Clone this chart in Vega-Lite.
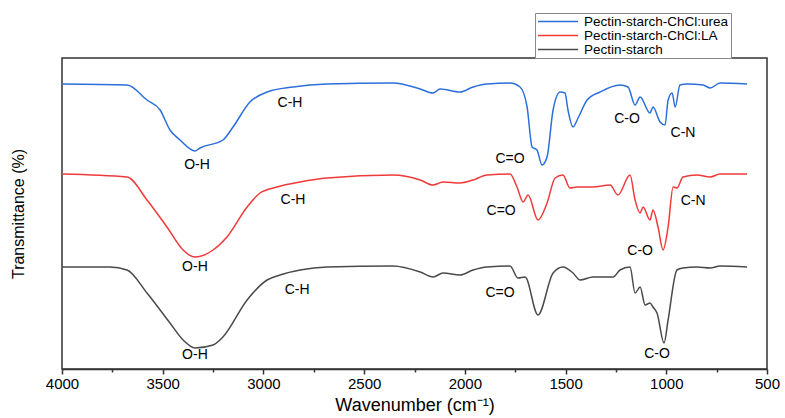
{
  "$schema": "https://vega.github.io/schema/vega-lite/v6.json",
  "autosize": "none",
  "width": 705,
  "height": 311,
  "padding": {"left": 62, "top": 58, "right": 18, "bottom": 49},
  "background": "white",
  "config": {
    "font": "Liberation Sans",
    "view": {"stroke": "#333", "strokeWidth": 1.5},
    "axis": {"labelFont": "Liberation Sans", "titleFont": "Liberation Sans", "labelColor": "#000", "titleColor": "#000", "grid": false}
  },
  "datasets": {
    "spectra": [
      {"series": "Pectin-starch-ChCl:urea", "wn": 4000, "t": 285},
      {"series": "Pectin-starch-ChCl:urea", "wn": 3677, "t": 284},
      {"series": "Pectin-starch-ChCl:urea", "wn": 3578, "t": 269},
      {"series": "Pectin-starch-ChCl:urea", "wn": 3513, "t": 259},
      {"series": "Pectin-starch-ChCl:urea", "wn": 3464, "t": 239},
      {"series": "Pectin-starch-ChCl:urea", "wn": 3414, "t": 229},
      {"series": "Pectin-starch-ChCl:urea", "wn": 3340, "t": 218},
      {"series": "Pectin-starch-ChCl:urea", "wn": 3315, "t": 221},
      {"series": "Pectin-starch-ChCl:urea", "wn": 3201, "t": 229},
      {"series": "Pectin-starch-ChCl:urea", "wn": 3151, "t": 242},
      {"series": "Pectin-starch-ChCl:urea", "wn": 3067, "t": 267},
      {"series": "Pectin-starch-ChCl:urea", "wn": 2982, "t": 277},
      {"series": "Pectin-starch-ChCl:urea", "wn": 2853, "t": 282},
      {"series": "Pectin-starch-ChCl:urea", "wn": 2684, "t": 285},
      {"series": "Pectin-starch-ChCl:urea", "wn": 2357, "t": 286},
      {"series": "Pectin-starch-ChCl:urea", "wn": 2222, "t": 280},
      {"series": "Pectin-starch-ChCl:urea", "wn": 2158, "t": 276},
      {"series": "Pectin-starch-ChCl:urea", "wn": 2123, "t": 280},
      {"series": "Pectin-starch-ChCl:urea", "wn": 2024, "t": 277},
      {"series": "Pectin-starch-ChCl:urea", "wn": 1959, "t": 282},
      {"series": "Pectin-starch-ChCl:urea", "wn": 1890, "t": 285},
      {"series": "Pectin-starch-ChCl:urea", "wn": 1776, "t": 286},
      {"series": "Pectin-starch-ChCl:urea", "wn": 1726, "t": 282},
      {"series": "Pectin-starch-ChCl:urea", "wn": 1691, "t": 262},
      {"series": "Pectin-starch-ChCl:urea", "wn": 1666, "t": 222},
      {"series": "Pectin-starch-ChCl:urea", "wn": 1642, "t": 219},
      {"series": "Pectin-starch-ChCl:urea", "wn": 1617, "t": 204},
      {"series": "Pectin-starch-ChCl:urea", "wn": 1592, "t": 212},
      {"series": "Pectin-starch-ChCl:urea", "wn": 1562, "t": 259},
      {"series": "Pectin-starch-ChCl:urea", "wn": 1527, "t": 277},
      {"series": "Pectin-starch-ChCl:urea", "wn": 1503, "t": 276},
      {"series": "Pectin-starch-ChCl:urea", "wn": 1488, "t": 259},
      {"series": "Pectin-starch-ChCl:urea", "wn": 1463, "t": 242},
      {"series": "Pectin-starch-ChCl:urea", "wn": 1438, "t": 251},
      {"series": "Pectin-starch-ChCl:urea", "wn": 1393, "t": 269},
      {"series": "Pectin-starch-ChCl:urea", "wn": 1329, "t": 277},
      {"series": "Pectin-starch-ChCl:urea", "wn": 1230, "t": 284},
      {"series": "Pectin-starch-ChCl:urea", "wn": 1190, "t": 282},
      {"series": "Pectin-starch-ChCl:urea", "wn": 1155, "t": 264},
      {"series": "Pectin-starch-ChCl:urea", "wn": 1130, "t": 272},
      {"series": "Pectin-starch-ChCl:urea", "wn": 1081, "t": 256},
      {"series": "Pectin-starch-ChCl:urea", "wn": 1066, "t": 262},
      {"series": "Pectin-starch-ChCl:urea", "wn": 1031, "t": 247},
      {"series": "Pectin-starch-ChCl:urea", "wn": 1006, "t": 244},
      {"series": "Pectin-starch-ChCl:urea", "wn": 991, "t": 269},
      {"series": "Pectin-starch-ChCl:urea", "wn": 971, "t": 276},
      {"series": "Pectin-starch-ChCl:urea", "wn": 956, "t": 262},
      {"series": "Pectin-starch-ChCl:urea", "wn": 932, "t": 284},
      {"series": "Pectin-starch-ChCl:urea", "wn": 897, "t": 285},
      {"series": "Pectin-starch-ChCl:urea", "wn": 817, "t": 284},
      {"series": "Pectin-starch-ChCl:urea", "wn": 782, "t": 281},
      {"series": "Pectin-starch-ChCl:urea", "wn": 733, "t": 286},
      {"series": "Pectin-starch-ChCl:urea", "wn": 599, "t": 285},

      {"series": "Pectin-starch-ChCl:LA", "wn": 4000, "t": 195},
      {"series": "Pectin-starch-ChCl:LA", "wn": 3677, "t": 192},
      {"series": "Pectin-starch-ChCl:LA", "wn": 3578, "t": 169},
      {"series": "Pectin-starch-ChCl:LA", "wn": 3479, "t": 142},
      {"series": "Pectin-starch-ChCl:LA", "wn": 3399, "t": 119},
      {"series": "Pectin-starch-ChCl:LA", "wn": 3340, "t": 112},
      {"series": "Pectin-starch-ChCl:LA", "wn": 3250, "t": 119},
      {"series": "Pectin-starch-ChCl:LA", "wn": 3181, "t": 132},
      {"series": "Pectin-starch-ChCl:LA", "wn": 3081, "t": 162},
      {"series": "Pectin-starch-ChCl:LA", "wn": 3017, "t": 176},
      {"series": "Pectin-starch-ChCl:LA", "wn": 2933, "t": 182},
      {"series": "Pectin-starch-ChCl:LA", "wn": 2818, "t": 187},
      {"series": "Pectin-starch-ChCl:LA", "wn": 2684, "t": 191},
      {"series": "Pectin-starch-ChCl:LA", "wn": 2357, "t": 194},
      {"series": "Pectin-starch-ChCl:LA", "wn": 2222, "t": 189},
      {"series": "Pectin-starch-ChCl:LA", "wn": 2158, "t": 184},
      {"series": "Pectin-starch-ChCl:LA", "wn": 2108, "t": 187},
      {"series": "Pectin-starch-ChCl:LA", "wn": 2024, "t": 186},
      {"series": "Pectin-starch-ChCl:LA", "wn": 1959, "t": 189},
      {"series": "Pectin-starch-ChCl:LA", "wn": 1890, "t": 194},
      {"series": "Pectin-starch-ChCl:LA", "wn": 1776, "t": 195},
      {"series": "Pectin-starch-ChCl:LA", "wn": 1741, "t": 182},
      {"series": "Pectin-starch-ChCl:LA", "wn": 1711, "t": 167},
      {"series": "Pectin-starch-ChCl:LA", "wn": 1686, "t": 174},
      {"series": "Pectin-starch-ChCl:LA", "wn": 1637, "t": 149},
      {"series": "Pectin-starch-ChCl:LA", "wn": 1592, "t": 166},
      {"series": "Pectin-starch-ChCl:LA", "wn": 1552, "t": 191},
      {"series": "Pectin-starch-ChCl:LA", "wn": 1513, "t": 194},
      {"series": "Pectin-starch-ChCl:LA", "wn": 1478, "t": 181},
      {"series": "Pectin-starch-ChCl:LA", "wn": 1443, "t": 182},
      {"series": "Pectin-starch-ChCl:LA", "wn": 1364, "t": 182},
      {"series": "Pectin-starch-ChCl:LA", "wn": 1279, "t": 184},
      {"series": "Pectin-starch-ChCl:LA", "wn": 1240, "t": 174},
      {"series": "Pectin-starch-ChCl:LA", "wn": 1180, "t": 194},
      {"series": "Pectin-starch-ChCl:LA", "wn": 1155, "t": 169},
      {"series": "Pectin-starch-ChCl:LA", "wn": 1130, "t": 156},
      {"series": "Pectin-starch-ChCl:LA", "wn": 1115, "t": 162},
      {"series": "Pectin-starch-ChCl:LA", "wn": 1081, "t": 149},
      {"series": "Pectin-starch-ChCl:LA", "wn": 1066, "t": 159},
      {"series": "Pectin-starch-ChCl:LA", "wn": 1041, "t": 142},
      {"series": "Pectin-starch-ChCl:LA", "wn": 1016, "t": 119},
      {"series": "Pectin-starch-ChCl:LA", "wn": 991, "t": 142},
      {"series": "Pectin-starch-ChCl:LA", "wn": 966, "t": 182},
      {"series": "Pectin-starch-ChCl:LA", "wn": 947, "t": 181},
      {"series": "Pectin-starch-ChCl:LA", "wn": 917, "t": 192},
      {"series": "Pectin-starch-ChCl:LA", "wn": 847, "t": 194},
      {"series": "Pectin-starch-ChCl:LA", "wn": 782, "t": 192},
      {"series": "Pectin-starch-ChCl:LA", "wn": 733, "t": 195},
      {"series": "Pectin-starch-ChCl:LA", "wn": 599, "t": 195},

      {"series": "Pectin-starch", "wn": 4000, "t": 102},
      {"series": "Pectin-starch", "wn": 3762, "t": 102},
      {"series": "Pectin-starch", "wn": 3677, "t": 99},
      {"series": "Pectin-starch", "wn": 3578, "t": 76},
      {"series": "Pectin-starch", "wn": 3464, "t": 46},
      {"series": "Pectin-starch", "wn": 3399, "t": 29},
      {"series": "Pectin-starch", "wn": 3340, "t": 21},
      {"series": "Pectin-starch", "wn": 3250, "t": 24},
      {"series": "Pectin-starch", "wn": 3201, "t": 32},
      {"series": "Pectin-starch", "wn": 3081, "t": 69},
      {"series": "Pectin-starch", "wn": 2982, "t": 89},
      {"series": "Pectin-starch", "wn": 2918, "t": 94},
      {"series": "Pectin-starch", "wn": 2818, "t": 99},
      {"series": "Pectin-starch", "wn": 2684, "t": 102},
      {"series": "Pectin-starch", "wn": 2357, "t": 103},
      {"series": "Pectin-starch", "wn": 2222, "t": 97},
      {"series": "Pectin-starch", "wn": 2158, "t": 92},
      {"series": "Pectin-starch", "wn": 2108, "t": 96},
      {"series": "Pectin-starch", "wn": 2024, "t": 94},
      {"series": "Pectin-starch", "wn": 1959, "t": 99},
      {"series": "Pectin-starch", "wn": 1890, "t": 102},
      {"series": "Pectin-starch", "wn": 1776, "t": 103},
      {"series": "Pectin-starch", "wn": 1736, "t": 91},
      {"series": "Pectin-starch", "wn": 1701, "t": 92},
      {"series": "Pectin-starch", "wn": 1637, "t": 54},
      {"series": "Pectin-starch", "wn": 1562, "t": 96},
      {"series": "Pectin-starch", "wn": 1513, "t": 102},
      {"series": "Pectin-starch", "wn": 1463, "t": 96},
      {"series": "Pectin-starch", "wn": 1428, "t": 89},
      {"series": "Pectin-starch", "wn": 1364, "t": 92},
      {"series": "Pectin-starch", "wn": 1264, "t": 92},
      {"series": "Pectin-starch", "wn": 1230, "t": 99},
      {"series": "Pectin-starch", "wn": 1180, "t": 102},
      {"series": "Pectin-starch", "wn": 1155, "t": 76},
      {"series": "Pectin-starch", "wn": 1130, "t": 82},
      {"series": "Pectin-starch", "wn": 1105, "t": 64},
      {"series": "Pectin-starch", "wn": 1081, "t": 66},
      {"series": "Pectin-starch", "wn": 1066, "t": 62},
      {"series": "Pectin-starch", "wn": 1046, "t": 56},
      {"series": "Pectin-starch", "wn": 1011, "t": 26},
      {"series": "Pectin-starch", "wn": 991, "t": 49},
      {"series": "Pectin-starch", "wn": 947, "t": 99},
      {"series": "Pectin-starch", "wn": 917, "t": 101},
      {"series": "Pectin-starch", "wn": 847, "t": 102},
      {"series": "Pectin-starch", "wn": 782, "t": 101},
      {"series": "Pectin-starch", "wn": 733, "t": 103},
      {"series": "Pectin-starch", "wn": 599, "t": 102}
    ],
    "labels": [
      {"label": "O-H", "wn": 3330, "t": 204},
      {"label": "C-H", "wn": 2868, "t": 266},
      {"label": "C=O", "wn": 1776, "t": 210},
      {"label": "C-O", "wn": 1195, "t": 250},
      {"label": "C-N", "wn": 917, "t": 236},
      {"label": "O-H", "wn": 3340, "t": 102},
      {"label": "C-H", "wn": 2853, "t": 169},
      {"label": "C=O", "wn": 1820, "t": 158},
      {"label": "C-N", "wn": 867, "t": 168},
      {"label": "C-O", "wn": 1130, "t": 118},
      {"label": "O-H", "wn": 3340, "t": 14},
      {"label": "C-H", "wn": 2833, "t": 79},
      {"label": "C=O", "wn": 1825, "t": 76},
      {"label": "C-O", "wn": 1046, "t": 15}
    ]
  },
  "layer": [
    {
      "data": {"name": "spectra"},
      "mark": {"type": "line", "strokeWidth": 1.5, "interpolate": "monotone"},
      "encoding": {
        "x": {
          "field": "wn", "type": "quantitative",
          "scale": {"domain": [500, 4000], "reverse": true, "nice": false, "zero": false},
          "axis": {
            "title": "Wavenumber (cm⁻¹)",
            "titleFontSize": 18, "titleFontWeight": "normal", "titlePadding": 5,
            "values": [4000, 3750, 3500, 3250, 3000, 2750, 2500, 2250, 2000, 1750, 1500, 1250, 1000, 750, 500],
            "labelExpr": "datum.value % 500 === 0 ? datum.value : ''",
            "labelFontSize": 15, "labelPadding": 2, "labelFlush": false, "labelOverlap": false,
            "tickSize": {"condition": {"test": "datum.value % 500 === 0", "value": 5}, "value": 3},
            "tickColor": "#333", "tickWidth": 1.5,
            "domainColor": "#333", "domainWidth": 1.5
          }
        },
        "y": {
          "field": "t", "type": "quantitative",
          "scale": {"domain": [0, 311], "nice": false, "zero": false},
          "axis": {
            "title": "Transmittance (%)", "titleFontSize": 16, "titleFontWeight": "normal",
            "titlePadding": 36, "labels": false, "ticks": false, "domain": false
          }
        },
        "color": {
          "field": "series", "type": "nominal",
          "scale": {
            "domain": ["Pectin-starch-ChCl:urea", "Pectin-starch-ChCl:LA", "Pectin-starch"],
            "range": ["#2b6fdc", "#f03a3a", "#4a4a4a"]
          },
          "legend": {
            "title": null, "orient": "none", "legendX": 473, "legendY": -45,
            "symbolType": "stroke", "symbolSize": 1600, "symbolStrokeWidth": 1.5,
            "clipHeight": 13, "rowPadding": 0, "padding": 2,
            "labelFontSize": 13.5, "labelFont": "Liberation Sans", "labelColor": "#000", "labelOffset": 5,
            "strokeColor": "#888", "fillColor": "white"
          }
        }
      }
    },
    {
      "data": {"name": "labels"},
      "mark": {"type": "text", "font": "Liberation Sans", "fontSize": 14, "color": "#000", "align": "center", "baseline": "middle"},
      "encoding": {
        "x": {"field": "wn", "type": "quantitative"},
        "y": {"field": "t", "type": "quantitative"},
        "text": {"field": "label"}
      }
    }
  ]
}
